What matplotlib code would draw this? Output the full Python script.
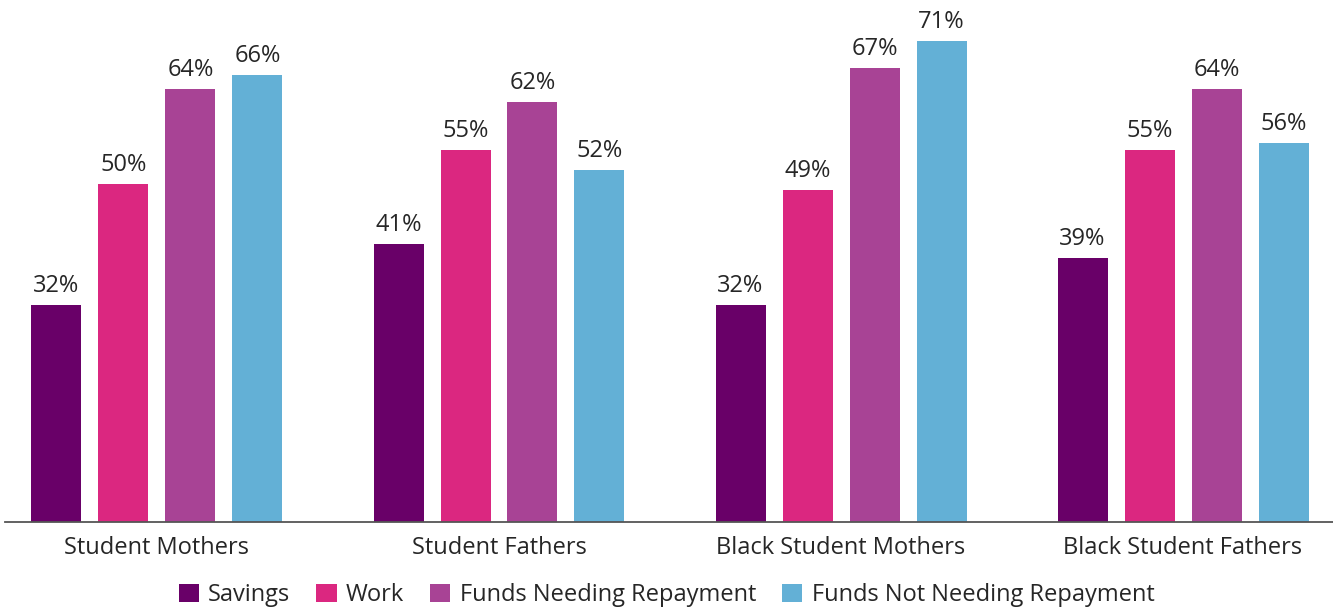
import numpy as np
import matplotlib.pyplot as plt

groups = ["Student Mothers", "Student Fathers", "Black Student Mothers", "Black Student Fathers"]
series = ["Savings", "Work", "Funds Needing Repayment", "Funds Not Needing Repayment"]
savings = [32, 41, 32, 39]
work = [50, 55, 49, 55]
funds_repay = [64, 62, 67, 64]
funds_no_repay = [66, 52, 71, 56]
colors = ["#690068", "#db2780", "#a84395", "#63b0d6"]

plt.rcParams['font.family'] = ['Open Sans', 'DejaVu Sans']
text_color = "#262626"
fs = 17

fig = plt.figure(figsize=(13.33, 6.09), dpi=100)
ax = fig.add_axes([5 / 1333, 1 - 522 / 609, 1 - 5 / 1333, 522 / 609])

x = np.arange(len(groups))
step = 67 / 342
width = 50 / 342
values = [savings, work, funds_repay, funds_no_repay]
for i, (name, vals) in enumerate(zip(series, values)):
    pos = x + (i - 1.5) * step
    bars = ax.bar(pos, vals, width, color=colors[i], label=name)
    for b, v in zip(bars, vals):
        ax.annotate("{}%".format(v), (b.get_x() + b.get_width() / 2, v),
                    xytext=(0, 5), textcoords="offset points",
                    ha="center", va="bottom", fontsize=fs, color=text_color)

ax.set_xlim((5 - 157) / 342, (1333 - 157) / 342)
ax.set_ylim(0, 522 / 6.77)
ax.set_xticks(x)
ax.set_xticklabels(groups, fontsize=fs, color=text_color)
ax.tick_params(axis="x", length=0, pad=10)
ax.set_yticks([])
for s in ["top", "right", "left"]:
    ax.spines[s].set_visible(False)
ax.spines["bottom"].set_color("#555555")
ax.spines["bottom"].set_linewidth(1.3)

leg = fig.legend(loc="lower center", ncol=4, frameon=False, fontsize=fs,
                 handlelength=0.85, handleheight=0.85, handletextpad=0.4,
                 columnspacing=1.1, bbox_to_anchor=(0.5, -0.032))
for t in leg.get_texts():
    t.set_color(text_color)

fig.savefig("out.png", dpi=100)
